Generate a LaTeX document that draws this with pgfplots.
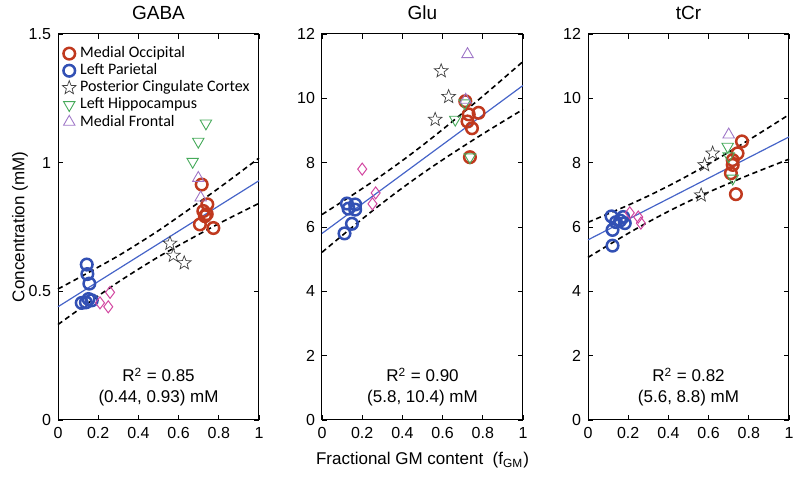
\documentclass[border=0pt]{standalone}
\usepackage{fontspec}
\setmainfont{Liberation Sans}
\newfontfamily\legfont{Carlito}
\usepackage{pgfplots}
\pgfplotsset{compat=1.18}

\definecolor{moRed}{RGB}{192,57,30}
\definecolor{lpBlue}{RGB}{50,80,180}
\definecolor{lhGreen}{RGB}{70,170,90}
\definecolor{mfPurple}{RGB}{160,120,200}
\definecolor{dPink}{RGB}{210,70,160}
\definecolor{fitBlue}{RGB}{70,100,200}

% outlined five-point star
\pgfdeclareplotmark{ostar}{%
  \pgfpathmoveto{\pgfpointpolar{90}{\pgfplotmarksize}}%
  \pgfpathlineto{\pgfpointpolar{126}{0.42\pgfplotmarksize}}%
  \pgfpathlineto{\pgfpointpolar{162}{\pgfplotmarksize}}%
  \pgfpathlineto{\pgfpointpolar{198}{0.42\pgfplotmarksize}}%
  \pgfpathlineto{\pgfpointpolar{234}{\pgfplotmarksize}}%
  \pgfpathlineto{\pgfpointpolar{270}{0.42\pgfplotmarksize}}%
  \pgfpathlineto{\pgfpointpolar{306}{\pgfplotmarksize}}%
  \pgfpathlineto{\pgfpointpolar{342}{0.42\pgfplotmarksize}}%
  \pgfpathlineto{\pgfpointpolar{18}{\pgfplotmarksize}}%
  \pgfpathlineto{\pgfpointpolar{54}{0.42\pgfplotmarksize}}%
  \pgfpathclose
  \pgfusepathqstroke}

\tikzset{rtext/.style={font=\fontsize{8.5}{10}\selectfont}}

\pgfplotsset{
  panel/.style={
    scale only axis, width=100.5pt, height=193pt,
    xmin=0, xmax=1, ymin=0,
    xtick={0,0.2,0.4,0.6,0.8,1},
    tick align=inside, major tick length=2.5pt,
    tick style={black, line width=0.4pt},
    axis line style={line width=0.5pt},
    ticklabel style={font=\fontsize{8}{9}\selectfont},
    /pgf/number format/assume math mode=true,
    title style={font=\fontsize{9.5}{11}\selectfont, at={(0.5,1)}, anchor=south, yshift=-2.5pt},
    clip=false,
  },
  mo/.style={only marks, mark=o, mark size=2.9pt, color=moRed, mark options={line width=1.25pt}},
  lp/.style={only marks, mark=o, mark size=2.9pt, color=lpBlue, mark options={line width=1.25pt}},
  pcc/.style={only marks, mark=ostar, mark size=3.6pt, color=black!75, mark options={line width=0.35pt}},
  lh/.style={only marks, mark=triangle, mark size=3.3pt, color=lhGreen, mark options={rotate=180, line width=0.45pt}},
  mf/.style={only marks, mark=triangle, mark size=3.3pt, color=mfPurple, mark options={line width=0.45pt}},
  dd/.style={only marks, mark=diamond, mark size=3pt, color=dPink, mark options={line width=0.5pt}},
  fit/.style={color=fitBlue, line width=0.6pt, no marks},
  band/.style={black, line width=0.8pt, dash pattern=on 2.6pt off 1.8pt, no marks, smooth},
}

\begin{document}
\begin{tikzpicture}[x=1pt,y=1pt]
\path[use as bounding box] (0,0) rectangle (400,240);

% ---------------- GABA ----------------
\begin{axis}[panel, at={(29pt,30pt)}, anchor=south west,
  ymax=1.5, ytick={0,0.5,1,1.5},
  title={GABA},
  ylabel={Concentration (mM)},
  ylabel style={font=\fontsize{8.5}{10}\selectfont, at={(axis description cs:-0.189,0.5)}, anchor=center},
  legend style={at={(0.01,0.984)}, anchor=north west, draw=none, fill=none,
    font=\legfont\fontsize{8}{8.5}\selectfont, row sep=-2.5pt, inner sep=1pt},
  legend cell align=left,
]
\addplot[mo] coordinates {(0.715,0.915)(0.743,0.838)(0.723,0.812)(0.731,0.792)(0.706,0.76)(0.773,0.746)(0.74,0.80)};
\addplot[lp] coordinates {(0.143,0.604)(0.146,0.567)(0.156,0.53)(0.118,0.455)(0.139,0.457)(0.168,0.465)(0.152,0.47)};
\addplot[pcc] coordinates {(0.557,0.686)(0.574,0.639)(0.628,0.61)};
\addplot[lh] coordinates {(0.736,1.153)(0.698,1.082)(0.67,1.004)};
\addplot[mf] coordinates {(0.698,0.94)(0.71,0.864)};
\addplot[dd, forget plot] coordinates {(0.259,0.496)(0.25,0.44)(0.209,0.455)};
\legend{Medial Occipital, Left Parietal, Posterior Cingulate Cortex, Left Hippocampus, Medial Frontal}
\addplot[fit, forget plot] coordinates {(0,0.44)(1,0.93)};
\addplot[band, forget plot] coordinates {(0,0.509)(0.1,0.551)(0.2,0.594)(0.3,0.638)(0.4,0.686)(0.5,0.736)(0.6,0.790)(0.7,0.845)(0.8,0.901)(0.9,0.959)(1,1.018)};
\addplot[band, forget plot] coordinates {(0,0.371)(0.1,0.427)(0.2,0.482)(0.3,0.536)(0.4,0.586)(0.5,0.634)(0.6,0.678)(0.7,0.721)(0.8,0.763)(0.9,0.803)(1,0.842)};
\node[rtext] at (rel axis cs:0.5,0.117) {R\textsuperscript{2} = 0.85};
\node[rtext] at (rel axis cs:0.5,0.057) {(0.44, 0.93) mM};
\end{axis}

% ---------------- Glu ----------------
\begin{axis}[panel, at={(161pt,30pt)}, anchor=south west,
  ymax=12, ytick={0,2,4,6,8,10,12},
  title={Glu},
  xlabel={Fractional GM content~~(f\textsubscript{GM})},
  xlabel style={font=\fontsize{8.5}{10}\selectfont, at={(axis description cs:0.5,0)}, anchor=center, yshift=-20pt},
]
\addplot[mo] coordinates {(0.713,9.91)(0.779,9.55)(0.724,9.28)(0.746,9.07)(0.736,8.17)(0.73,9.5)};
\addplot[lp] coordinates {(0.124,6.73)(0.165,6.7)(0.132,6.57)(0.165,6.54)(0.149,6.1)(0.112,5.8)};
\addplot[pcc] coordinates {(0.593,10.85)(0.63,10.05)(0.563,9.34)};
\addplot[lh] coordinates {(0.663,9.34)(0.736,8.17)(0.71,9.85)};
\addplot[mf] coordinates {(0.724,11.37)(0.715,9.95)};
\addplot[dd] coordinates {(0.2,7.8)(0.267,7.06)(0.251,6.72)};
\addplot[fit] coordinates {(0,5.8)(1,10.4)};
\addplot[band] coordinates {(0,6.387)(0.1,6.787)(0.2,7.192)(0.3,7.617)(0.4,8.065)(0.5,8.537)(0.6,9.032)(0.7,9.544)(0.8,10.067)(0.9,10.603)(1,11.145)};
\addplot[band] coordinates {(0,5.213)(0.1,5.733)(0.2,6.248)(0.3,6.743)(0.4,7.215)(0.5,7.663)(0.6,8.088)(0.7,8.496)(0.8,8.893)(0.9,9.277)(1,9.655)};
\node[rtext] at (rel axis cs:0.5,0.117) {R\textsuperscript{2} = 0.90};
\node[rtext] at (rel axis cs:0.5,0.057) {(5.8, 10.4) mM};
\end{axis}

% ---------------- tCr ----------------
\begin{axis}[panel, at={(294pt,30pt)}, anchor=south west,
  ymax=12, ytick={0,2,4,6,8,10,12},
  title={tCr},
]
\addplot[mo] coordinates {(0.766,8.66)(0.744,8.29)(0.72,8.08)(0.72,7.93)(0.711,7.67)(0.736,7.02)};
\addplot[lp] coordinates {(0.117,6.33)(0.175,6.31)(0.139,6.15)(0.183,6.12)(0.122,5.91)(0.122,5.42)(0.16,6.2)};
\addplot[pcc] coordinates {(0.62,8.29)(0.58,7.93)(0.563,6.99)};
\addplot[lh] coordinates {(0.695,8.5)(0.72,7.51)(0.70,8.2)};
\addplot[mf] coordinates {(0.70,8.87)};
\addplot[dd] coordinates {(0.208,6.44)(0.25,6.31)(0.263,6.12)};
\addplot[fit] coordinates {(0,5.6)(1,8.8)};
\addplot[band] coordinates {(0,6.145)(0.1,6.41)(0.2,6.678)(0.3,6.966)(0.4,7.275)(0.5,7.606)(0.6,7.958)(0.7,8.327)(0.8,8.705)(0.9,9.096)(1,9.492)};
\addplot[band] coordinates {(0,5.055)(0.1,5.43)(0.2,5.802)(0.3,6.154)(0.4,6.485)(0.5,6.794)(0.6,7.082)(0.7,7.353)(0.8,7.615)(0.9,7.864)(1,8.108)};
\node[rtext] at (rel axis cs:0.5,0.117) {R\textsuperscript{2} = 0.82};
\node[rtext] at (rel axis cs:0.5,0.057) {(5.6, 8.8) mM};
\end{axis}
\end{tikzpicture}
\end{document}
